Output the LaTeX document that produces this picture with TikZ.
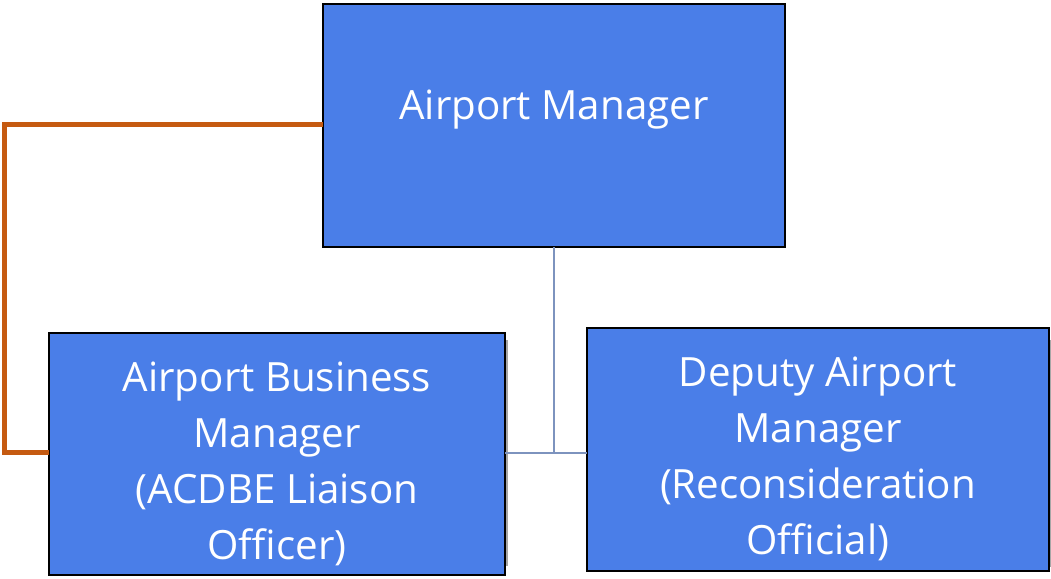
\documentclass[tikz,border=0pt]{standalone}
\usepackage{fontspec}
\setmainfont{Open Sans}
\definecolor{boxblue}{HTML}{4A7EE8}
\definecolor{linkorange}{HTML}{C55A11}
\definecolor{linkgray}{HTML}{7D93BE}
\definecolor{shadowgray}{HTML}{A6A6A6}
\begin{document}
\begin{tikzpicture}[x=1pt,y=-1pt,
  rolebox/.style={draw=black,line width=2pt,fill=boxblue},
  roletext/.style={text=white,align=center,inner sep=0pt,font=\fontsize{40.3}{56}\selectfont},
  orgline/.style={draw=linkorange,line width=5pt},
  thinline/.style={draw=linkgray,line width=1.6pt},
  shadowline/.style={draw=shadowgray,line width=2pt}]
\useasboundingbox (0,0) rectangle (1051,578);
% shadows
\draw[shadowline] (507,340) -- (507,566);
\draw[shadowline] (1050,340) -- (1050,567);
% boxes
\path[rolebox] (323,4) rectangle (785,247) coordinate (topse);
\coordinate (topw) at (323,124);
\coordinate (tops) at (554,247);
\path[rolebox] (49,333) rectangle (505,575);
\coordinate (leftw) at (49,452);
\coordinate (lefte) at (505,453);
\path[rolebox] (587,328) rectangle (1049,571);
\coordinate (rightw) at (587,453);
% texts
\node[roletext,anchor=base] (tm) at (554,119) {Airport Manager};
\node[roletext] (lm) at (277,463.5) {Airport Business\\Manager\\(ACDBE Liaison\\Officer)};
\node[roletext] (rm) at (818,458.5) {Deputy Airport\\Manager\\(Reconsideration\\Official)};
% connectors
\coordinate (bend1) at (4,124);
\coordinate (bend2) at (4,452);
\draw[orgline] (topw) -- (bend1) -- (bend2) -- (leftw);
\coordinate (junc) at (554,453);
\draw[thinline] (tops) -- (junc);
\draw[thinline] (lefte) -- (rightw);
\end{tikzpicture}
\end{document}
